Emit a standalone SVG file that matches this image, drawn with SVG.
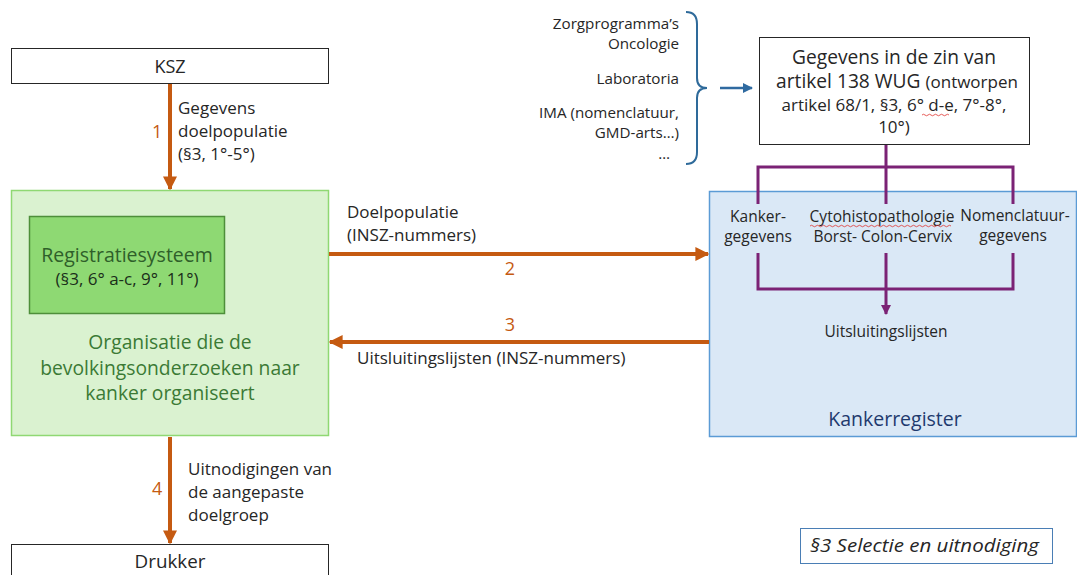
<svg xmlns="http://www.w3.org/2000/svg" width="1077" height="575" viewBox="0 0 1077 575">
<defs>
<style>
text{font-family:"Open Sans","Liberation Sans",Arial,sans-serif;fill:#262626}
.box{fill:#fff;stroke:#262626;stroke-width:1}
.or{stroke:#C55A11;stroke-width:4;fill:none}
.pu{stroke:#7B2275;stroke-width:3;fill:none}
.num{fill:#C55A11;font-size:18px}
.lbl{font-size:17px}
.small{font-size:15.5px}
.mid{text-anchor:middle}
.end{text-anchor:end}
.wavy{stroke:#E0322F;stroke-width:0.8;fill:none}
</style>
<marker id="ao" viewBox="0 0 10 10" refX="9" refY="5" markerWidth="3.5" markerHeight="3.5" orient="auto" markerUnits="strokeWidth"><path d="M0,0L10,5L0,10z" fill="#C55A11"/></marker>
<marker id="ap" viewBox="0 0 10 10" refX="9" refY="5" markerWidth="3.5" markerHeight="3.5" orient="auto" markerUnits="strokeWidth"><path d="M0,0L10,5L0,10z" fill="#7B2275"/></marker>
<marker id="ab" viewBox="0 0 10 10" refX="9" refY="5" markerWidth="4" markerHeight="4" orient="auto" markerUnits="strokeWidth"><path d="M0,0L10,5L0,10z" fill="#2F6AA0"/></marker>
</defs>

<g id="ksz">
<rect class="box" x="11.5" y="48.5" width="317" height="35"/>
<text class="mid" x="170" y="73" font-size="18">KSZ</text>
</g>

<g id="organisatie">
<rect x="11.5" y="190.5" width="317" height="245" fill="#DAF2D0" stroke="#8FD873" stroke-width="1.5"/>
<text class="mid" x="170" y="349" font-size="19.3" style="fill:#3B7A35">Organisatie die de</text>
<text class="mid" x="170" y="375" font-size="19.3" style="fill:#3B7A35">bevolkingsonderzoeken naar</text>
<text class="mid" x="170" y="400" font-size="19.3" style="fill:#3B7A35">kanker organiseert</text>
</g>

<g id="registratiesysteem">
<rect x="29.5" y="216.5" width="195" height="97" fill="#8ED973" stroke="#4E8F3A" stroke-width="1.5"/>
<text class="mid" x="127" y="262" font-size="19.5" style="fill:#2F5F2A">Registratiesysteem</text>
<text class="mid" x="127" y="285" font-size="17" style="fill:#1A2E1A">(§3, 6° a-c, 9°, 11°)</text>
</g>

<g id="drukker">
<rect class="box" x="11.5" y="544.5" width="317" height="40"/>
<text class="mid" x="170" y="568" font-size="18.8">Drukker</text>
</g>

<g id="kankerregister">
<rect x="709.5" y="191.5" width="367" height="245" fill="#DAE8F6" stroke="#5B9BD5" stroke-width="1.5"/>
<text class="mid" x="895" y="426" font-size="19.5" style="fill:#1F3A6E">Kankerregister</text>
<text class="mid small" x="758" y="222">Kanker-</text>
<text class="mid small" x="758" y="242">gegevens</text>
<text class="mid small" x="882" y="222">Cytohistopathologie</text>
<path class="wavy" d="M810,226 q1.5,-1.5 3,0 t3,0 t3,0 t3,0 t3,0 t3,0 t3,0 t3,0 t3,0 t3,0 t3,0 t3,0 t3,0 t3,0 t3,0 t3,0 t3,0 t3,0 t3,0 t3,0 t3,0 t3,0 t3,0 t3,0 t3,0 t3,0 t3,0 t3,0 t3,0 t3,0 t3,0 t3,0 t3,0 t3,0 t3,0 t3,0 t3,0 t3,0 t3,0 t3,0 t3,0 t3,0 t3,0 t3,0 t3,0 t3,0 t3,0"/>
<text class="mid small" x="883" y="242">Borst- Colon-Cervix</text>
<text class="mid small" x="1015" y="221">Nomenclatuur-</text>
<text class="mid small" x="1013" y="241">gegevens</text>
<text class="mid small" x="886" y="337">Uitsluitingslijsten</text>
</g>

<g id="gegevens-wug">
<rect class="box" x="759.5" y="37.5" width="270" height="107"/>
<text class="mid" x="894" y="64" font-size="19.2">Gegevens in de zin van</text>
<text class="mid" x="897" y="88"><tspan font-size="19.2">artikel 138 WUG </tspan><tspan font-size="17">(ontworpen</tspan></text>
<text class="mid" font-size="17" x="894" y="111">artikel 68/1, §3, 6° d-e, 7°-8°,</text>
<path class="wavy" d="M922,115 q1.5,-1.5 3,0 t3,0 t3,0 t3,0 t3,0 t3,0 t3,0 t3,0 t3,0"/>
<text class="mid" font-size="17" x="894" y="133">10°)</text>
</g>

<g id="bronnen">
<text class="end" font-size="15.2" x="679" y="29">Zorgprogramma’s</text>
<text class="end" font-size="15.2" x="679" y="49">Oncologie</text>
<text class="end" font-size="15.2" x="679" y="84">Laboratoria</text>
<text class="end" font-size="15.2" x="679" y="118">IMA (nomenclatuur,</text>
<text class="end" font-size="15.2" x="679" y="138">GMD-arts…)</text>
<text class="end" font-size="15.2" x="670" y="159">…</text>
<path d="M686,12 Q697,12 697,24 L697,78 Q697,88 707,88 Q697,88 697,98 L697,152 Q697,164 686,164" fill="none" stroke="#2E6A9A" stroke-width="2"/>
</g>

<g id="connectors">
<line x1="720" y1="88" x2="752" y2="88" stroke="#2F6AA0" stroke-width="2.5" marker-end="url(#ab)"/>
<line class="or" x1="170" y1="84" x2="170" y2="189" marker-end="url(#ao)"/>
<text class="num" x="152" y="138">1</text>
<text class="lbl" x="178" y="114">Gegevens</text>
<text class="lbl" x="178" y="137">doelpopulatie</text>
<text class="lbl" x="178" y="160">(§3, 1°-5°)</text>

<line class="or" x1="329" y1="254" x2="708" y2="254" marker-end="url(#ao)"/>
<text class="lbl" x="347" y="218">Doelpopulatie</text>
<text class="lbl" x="347" y="241">(INSZ-nummers)</text>
<text class="num mid" x="510" y="275">2</text>

<line class="or" x1="709" y1="342" x2="330" y2="342" marker-end="url(#ao)"/>
<text class="num mid" x="510" y="331">3</text>
<text class="lbl" x="357" y="364">Uitsluitingslijsten (INSZ-nummers)</text>

<line class="or" x1="170" y1="437" x2="170" y2="543" marker-end="url(#ao)"/>
<text class="num" x="152" y="495">4</text>
<text class="lbl" x="188" y="475">Uitnodigingen van</text>
<text class="lbl" x="188" y="498">de aangepaste</text>
<text class="lbl" x="188" y="521">doelgroep</text>

<path class="pu" d="M886,145 L886,204 M758,204 L758,167 L1013,167 L1013,204"/>
<path class="pu" d="M758,253 L758,289 L1013,289 L1013,253 M886,253 L886,289"/>
<line class="pu" x1="886" y1="289" x2="886" y2="314" marker-end="url(#ap)"/>
</g>

<g id="legenda">
<rect x="800.5" y="528.5" width="252" height="35" fill="#fff" stroke="#4A7EB5" stroke-width="1"/>
<text x="810" y="552" font-size="19" font-style="italic" textLength="229" lengthAdjust="spacingAndGlyphs">§3 Selectie en uitnodiging</text>
</g>
</svg>
